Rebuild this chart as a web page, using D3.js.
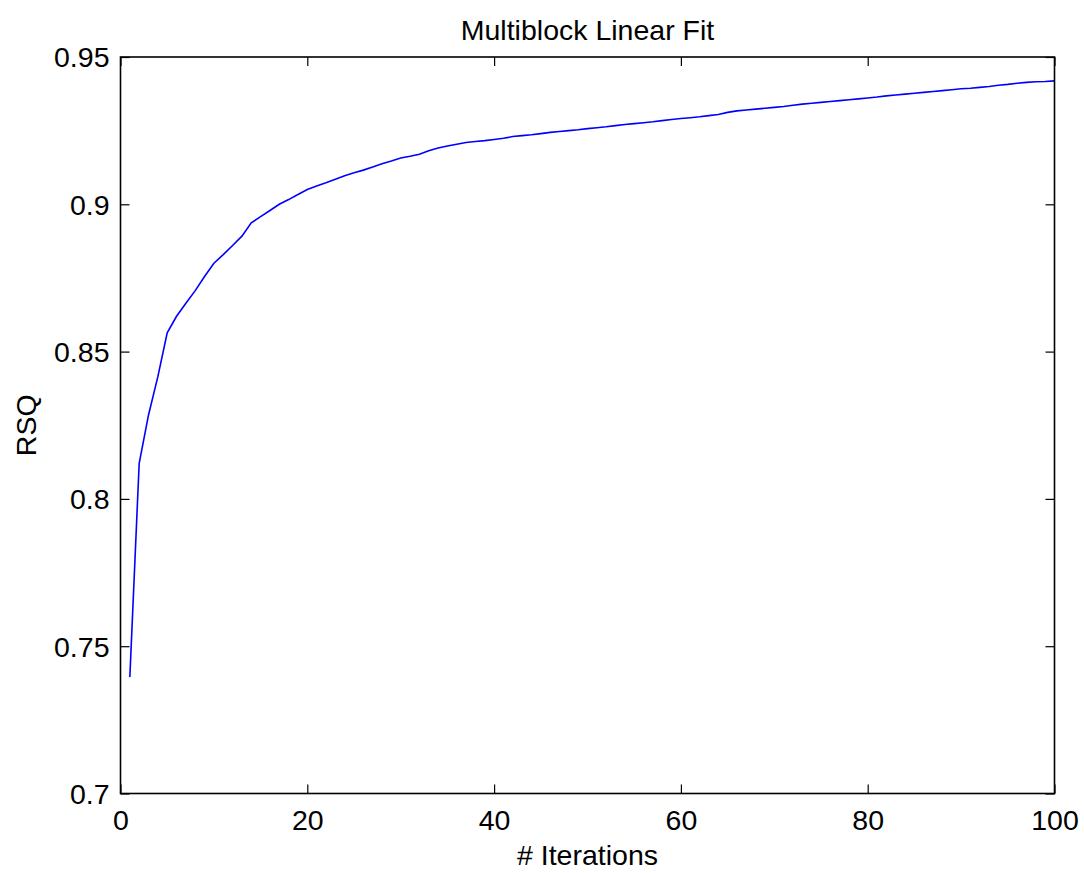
<!DOCTYPE html>
<html>
<head>
<meta charset="utf-8">
<script src="https://cdn.jsdelivr.net/npm/d3@7"></script>
<style>
  html, body { margin: 0; padding: 0; background: #fff; }
  svg { display: block; }
  text { font-family: "Liberation Sans", Arial, sans-serif; fill: #000; }
</style>
</head>
<body>
<svg id="chart" width="1084" height="873"></svg>
<script>
const iterations = d3.range(1, 101);
const rsq = [
  0.7395, 0.8121, 0.8285, 0.8415, 0.8564, 0.8620, 0.8664, 0.8707, 0.8755, 0.8800,
  0.8829, 0.8860, 0.8892, 0.8937, 0.8958, 0.8979, 0.9000, 0.9016, 0.9033, 0.9050,
  0.9062, 0.9073, 0.9085, 0.9097, 0.9107, 0.9116, 0.9127, 0.9138, 0.9147, 0.9157,
  0.9163, 0.9170, 0.9182, 0.9191, 0.9198, 0.9204, 0.9210, 0.9213, 0.9216, 0.9220,
  0.9224, 0.9230, 0.9233, 0.9236, 0.9240, 0.9244, 0.9247, 0.9250, 0.9253, 0.9257,
  0.9260, 0.9263, 0.9267, 0.9271, 0.9274, 0.9277, 0.9280, 0.9284, 0.9288, 0.9291,
  0.9294, 0.9297, 0.9301, 0.9305, 0.9312, 0.9317, 0.9320, 0.9323, 0.9326, 0.9329,
  0.9332, 0.9336, 0.9340, 0.9343, 0.9346, 0.9349, 0.9352, 0.9355, 0.9358, 0.9361,
  0.9364, 0.9368, 0.9371, 0.9374, 0.9377, 0.9380, 0.9383, 0.9386, 0.9389, 0.9392,
  0.9394, 0.9397, 0.9400, 0.9404, 0.9407, 0.9411, 0.9414, 0.9416, 0.9417, 0.9419
];
const xTicks = [0, 20, 40, 60, 80, 100];
const yTicks = [0.7, 0.75, 0.8, 0.85, 0.9, 0.95];
const xTickLabels = ["0", "20", "40", "60", "80", "100"];
const yTickLabels = ["0.7", "0.75", "0.8", "0.85", "0.9", "0.95"];
const title = "Multiblock Linear Fit";
const xLabel = "# Iterations";
const yLabel = "RSQ";

const pL = 120.5, pR = 1054.5, pT = 57, pB = 793.5;
const fs = 28.5;
const svg = d3.select("#chart");
const x = d3.scaleLinear().domain([0, 100]).range([pL, pR]);
const y = d3.scaleLinear().domain([0.7, 0.95]).range([pB, pT]);

// data line
const line = d3.line().x((d, i) => x(iterations[i])).y(d => y(d));
svg.append("path").datum(rsq)
  .attr("d", line)
  .attr("fill", "none")
  .attr("stroke", "#0000ff")
  .attr("stroke-width", 1.6);

const tickLen = 9;

// axes (ticks inward, all four sides)
const bx = svg.append("g").attr("transform", `translate(0,${pB})`)
  .call(d3.axisBottom(x).tickValues(xTicks).tickSizeInner(-tickLen).tickSizeOuter(0)
    .tickFormat((d, i) => xTickLabels[i]).tickPadding(20));
const tx = svg.append("g").attr("transform", `translate(0,${pT})`)
  .call(d3.axisTop(x).tickValues(xTicks).tickSizeInner(-tickLen).tickSizeOuter(0).tickFormat(""));
const ly = svg.append("g").attr("transform", `translate(${pL},0)`)
  .call(d3.axisLeft(y).tickValues(yTicks).tickSizeInner(-tickLen).tickSizeOuter(0)
    .tickFormat((d, i) => yTickLabels[i]).tickPadding(11));
const ry = svg.append("g").attr("transform", `translate(${pR},0)`)
  .call(d3.axisRight(y).tickValues(yTicks).tickSizeInner(-tickLen).tickSizeOuter(0).tickFormat(""));

[bx, tx, ly, ry].forEach(g => {
  g.select(".domain").remove();
  g.selectAll(".tick line").attr("stroke", "#000").attr("stroke-width", 1.2);
  g.selectAll(".tick text").attr("font-size", fs)
    .attr("font-family", "'Liberation Sans', Arial, sans-serif").attr("fill", "#000");
});
bx.selectAll(".tick text").attr("dy", null).attr("y", 36);
ly.selectAll(".tick text").attr("dy", "0.35em");

// box
svg.append("rect")
  .attr("x", pL).attr("y", pT)
  .attr("width", pR - pL).attr("height", pB - pT)
  .attr("fill", "none").attr("stroke", "#000").attr("stroke-width", 1.6);

// titles
svg.append("text").attr("x", (pL + pR) / 2).attr("y", 40)
  .attr("text-anchor", "middle").attr("font-size", fs).text(title);
svg.append("text").attr("x", (pL + pR) / 2).attr("y", 865)
  .attr("text-anchor", "middle").attr("font-size", fs).text(xLabel);
svg.append("text").attr("transform", `translate(36,${(pT + pB) / 2}) rotate(-90)`)
  .attr("text-anchor", "middle").attr("font-size", fs).text(yLabel);
</script>
</body>
</html>
